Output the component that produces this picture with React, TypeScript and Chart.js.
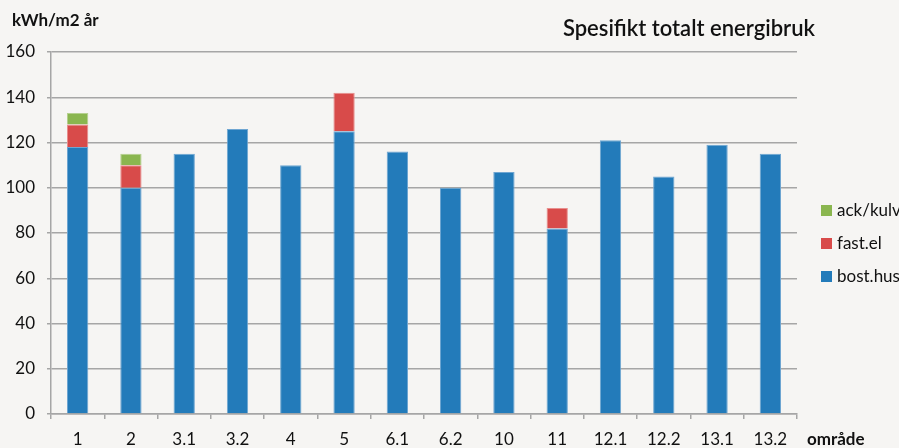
import React, { useEffect, useRef } from "react";
import { Chart, registerables } from "chart.js";

Chart.register(...registerables);

const categories = ["1", "2", "3.1", "3.2", "4", "5", "6.1", "6.2", "10", "11", "12.1", "12.2", "13.1", "13.2"];
const bostHus = [118, 100, 115, 126, 110, 125, 116, 100, 107, 82, 121, 105, 119, 115];
const fastEl = [10, 10, 0, 0, 0, 17, 0, 0, 0, 9, 0, 0, 0, 0];
const ackKulv = [5, 5, 0, 0, 0, 0, 0, 0, 0, 0, 0, 0, 0, 0];
const yTicks = [0, 20, 40, 60, 80, 100, 120, 140, 160];

const title = "Spesifikt totalt energibruk";
const yUnit = "kWh/m2 år";
const xName = "område";

const BG = "#F6F5F3";
const FONT = "Lato, 'Open Sans', sans-serif";

export default function App() {
  const ref = useRef<HTMLCanvasElement | null>(null);

  useEffect(() => {
    document.body.style.margin = "0";
    document.body.style.background = BG;
    const canvas = ref.current!;
    const textPlugin = {
      id: "texts",
      beforeDraw(chart: any) {
        const ctx = chart.ctx;
        ctx.save();
        ctx.fillStyle = BG;
        ctx.fillRect(0, 0, chart.width, chart.height);
        ctx.restore();
      },
      afterDraw(chart: any) {
        const ctx = chart.ctx;
        ctx.save();
        ctx.fillStyle = "#111";
        ctx.textBaseline = "middle";
        ctx.font = `bold 17px ${FONT}`;
        ctx.textAlign = "left";
        ctx.fillText(yUnit, 12, 21);
        ctx.fillText(xName, 807, 440);
        ctx.font = `600 22px ${FONT}`;
        ctx.textAlign = "right";
        ctx.fillText(title, 815, 29);
        // legend (reversed order)
        ctx.font = `17px ${FONT}`;
        ctx.textAlign = "left";
        const ds = chart.data.datasets.slice().reverse();
        ds.forEach((d: any, i: number) => {
          const cy = 210 + i * 33;
          ctx.fillStyle = d.backgroundColor;
          ctx.fillRect(821, cy - 5, 11, 11);
          ctx.fillStyle = "#111";
          ctx.fillText(d.label, 837, cy + 1);
        });
        ctx.restore();
      },
    };

    const chart = new Chart(canvas, {
      type: "bar",
      data: {
        labels: categories,
        datasets: [
          { label: "bost.hus", data: bostHus, backgroundColor: "#237BBA", borderColor: "#6FA6D2", borderWidth: 1, borderSkipped: "bottom" },
          { label: "fast.el", data: fastEl, backgroundColor: "#D84B4A", borderColor: "#E88F8E", borderWidth: 1, borderSkipped: "bottom" },
          { label: "ack/kulv", data: ackKulv, backgroundColor: "#8AB64F", borderColor: "#B5D08F", borderWidth: 1, borderSkipped: "bottom" },
        ],
      },
      options: {
        animation: false,
        responsive: false,
        maintainAspectRatio: false,
        devicePixelRatio: 1,
        layout: { padding: { top: 52, right: 102, left: 0, bottom: 0 } },
        plugins: { legend: { display: false }, title: { display: false }, tooltip: { enabled: false } },
        datasets: { bar: { barPercentage: 0.4, categoryPercentage: 1 } },
        scales: {
          x: {
            stacked: true,
            afterFit: (s: any) => { s.height = 34; },
            grid: { offset: true, drawOnChartArea: false, drawTicks: true, tickLength: 5, color: "#A6A6A6", lineWidth: 1.5 },
            border: { color: "#A6A6A6", width: 1.5 },
            ticks: { color: "#111", font: { family: FONT, size: 17 }, padding: 10, maxRotation: 0, autoSkip: false },
          },
          y: {
            stacked: true,
            min: 0,
            max: 160,
            afterFit: (s: any) => { s.width = 51; },
            afterBuildTicks: (s: any) => { s.ticks = yTicks.map((v) => ({ value: v })); },
            grid: { color: "#A6A6A6", lineWidth: 1.5, tickLength: 4 },
            border: { color: "#A6A6A6", width: 1.5 },
            ticks: { color: "#111", font: { family: FONT, size: 17 }, padding: 12 },
          },
        },
      },
      plugins: [textPlugin],
    } as any);
    return () => chart.destroy();
  }, []);

  return (
    <div style={{ position: "absolute", left: 0, top: 0, width: 899, height: 448, background: BG }}>
      <canvas ref={ref} width={899} height={448} style={{ width: 899, height: 448, display: "block" }} />
    </div>
  );
}
